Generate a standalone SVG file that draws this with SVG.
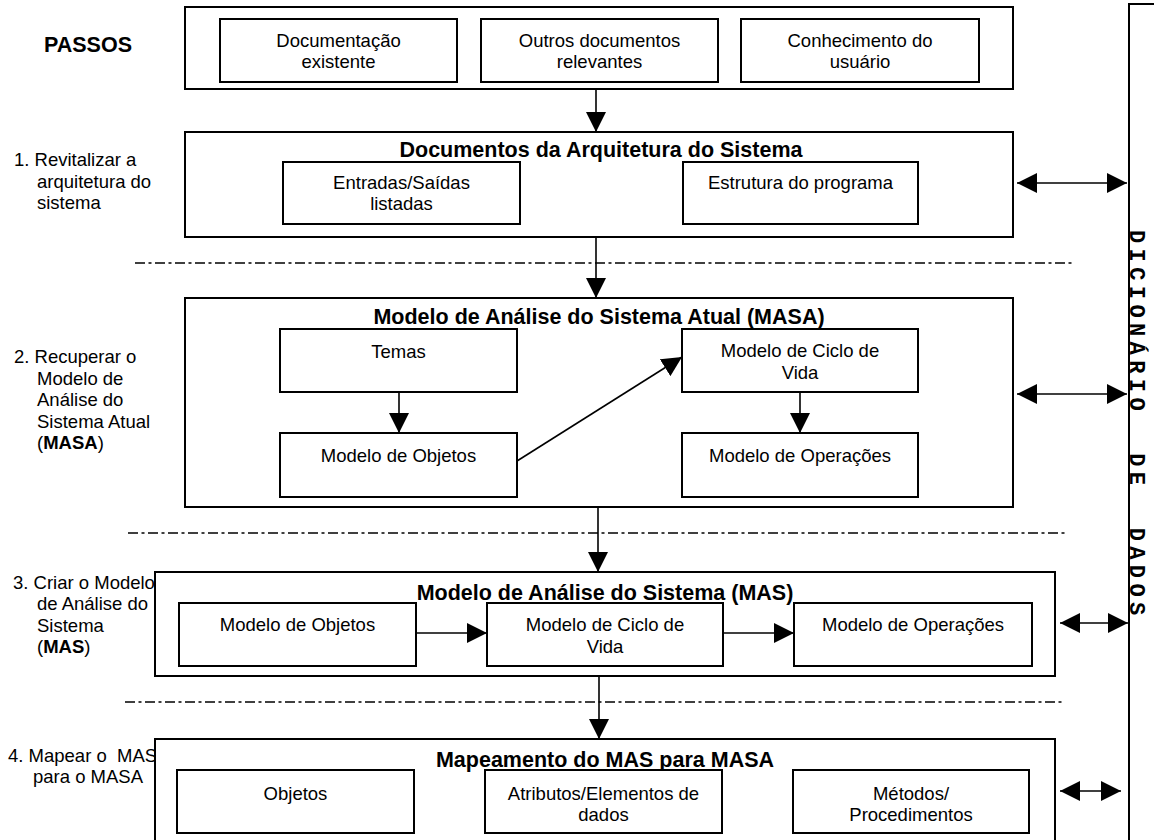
<svg xmlns="http://www.w3.org/2000/svg" width="1154" height="840" viewBox="0 0 1154 840">
  <style>
    .box { fill: #fff; stroke: #000; stroke-width: 2; }
    .t { font-family: "Liberation Sans", Arial, sans-serif; font-size: 18.5px; fill: #000; }
    .c { text-anchor: middle; }
    .b { font-weight: bold; font-size: 21.5px; }
    .sep { stroke: #000; stroke-width: 1.5; stroke-dasharray: 10 3.5 3 3.5; fill: none; }
    .con { stroke: #000; stroke-width: 1.6; fill: none; }
    .dict { font-family: "Liberation Mono", "Courier New", monospace; font-weight: bold; font-size: 22px; letter-spacing: 5.4px; fill: #000; }
  </style>
  <defs>
    <marker id="ah" viewBox="0 0 20 20" refX="20" refY="10" markerWidth="20" markerHeight="20" markerUnits="userSpaceOnUse" orient="auto-start-reverse">
      <path d="M0,0 L20,10 L0,20 z" fill="#000"/>
    </marker>
  </defs>

  <rect width="1154" height="840" fill="#fff"/>

  <!-- step labels -->
  <g id="labels" class="t">
    <text x="44" y="52" class="b">PASSOS</text>
    <text y="166"><tspan x="14">1. Revitalizar a</tspan><tspan x="37" y="188">arquitetura do</tspan><tspan x="37" y="209">sistema</tspan></text>
    <text y="363"><tspan x="14">2. Recuperar o</tspan><tspan x="37" y="385">Modelo de</tspan><tspan x="37" y="406">Análise do</tspan><tspan x="37" y="428">Sistema Atual</tspan><tspan x="37" y="449">(<tspan font-weight="bold">MASA</tspan>)</tspan></text>
    <text y="589"><tspan x="13">3. Criar o Modelo</tspan><tspan x="37" y="610">de Análise do</tspan><tspan x="37" y="632">Sistema</tspan><tspan x="37" y="653">(<tspan font-weight="bold">MAS</tspan>)</tspan></text>
    <text y="762" xml:space="preserve"><tspan x="8">4. Mapear o  MAS</tspan><tspan x="33" y="783">para o MASA</tspan></text>
  </g>

  <!-- step separators -->
  <g id="separators">
    <line class="sep" x1="135" y1="263" x2="1073" y2="263"/>
    <line class="sep" x1="128" y1="533" x2="1067" y2="533"/>
    <line class="sep" x1="125" y1="702" x2="1063" y2="702"/>
  </g>

  <!-- sources -->
  <g id="sources">
    <rect class="box" x="185" y="7" width="828" height="82"/>
    <g id="doc-existente">
      <rect class="box" x="220" y="19" width="237" height="63"/>
      <text class="t c" x="338.5" y="47">Documentação<tspan x="338.5" y="68">existente</tspan></text>
    </g>
    <g id="outros-docs">
      <rect class="box" x="481" y="19" width="237" height="63"/>
      <text class="t c" x="599.5" y="47">Outros documentos<tspan x="599.5" y="68">relevantes</tspan></text>
    </g>
    <g id="conhecimento">
      <rect class="box" x="741" y="19" width="238" height="63"/>
      <text class="t c" x="860" y="47">Conhecimento do<tspan x="860" y="68">usuário</tspan></text>
    </g>
  </g>

  <!-- step 1 -->
  <g id="arquitetura">
    <rect class="box" x="185" y="132" width="828" height="105"/>
    <text class="t b c" x="601" y="157">Documentos da Arquitetura do Sistema</text>
    <g id="entradas-saidas">
      <rect class="box" x="283" y="162" width="237" height="62"/>
      <text class="t c" x="401.5" y="189">Entradas/Saídas<tspan x="401.5" y="210">listadas</tspan></text>
    </g>
    <g id="estrutura">
      <rect class="box" x="683" y="162" width="235" height="62"/>
      <text class="t c" x="800.5" y="189">Estrutura do programa</text>
    </g>
  </g>

  <!-- step 2 -->
  <g id="masa">
    <rect class="box" x="185" y="298" width="828" height="209"/>
    <text class="t b c" x="599" y="324">Modelo de Análise do Sistema Atual (MASA)</text>
    <g id="masa-temas">
      <rect class="box" x="280" y="329" width="237" height="63"/>
      <text class="t c" x="398.5" y="358">Temas</text>
    </g>
    <g id="masa-objetos">
      <rect class="box" x="280" y="433" width="237" height="64"/>
      <text class="t c" x="398.5" y="462">Modelo de Objetos</text>
    </g>
    <g id="masa-ciclo">
      <rect class="box" x="682" y="329" width="236" height="63"/>
      <text class="t c" x="800" y="357">Modelo de Ciclo de<tspan x="800" y="379">Vida</tspan></text>
    </g>
    <g id="masa-operacoes">
      <rect class="box" x="682" y="433" width="236" height="64"/>
      <text class="t c" x="800" y="462">Modelo de Operações</text>
    </g>
  </g>

  <!-- step 3 -->
  <g id="mas">
    <rect class="box" x="155" y="572" width="900" height="104"/>
    <text class="t b c" x="605" y="600">Modelo de Análise do Sistema (MAS)</text>
    <g id="mas-objetos">
      <rect class="box" x="179" y="603" width="237" height="63"/>
      <text class="t c" x="297.5" y="631">Modelo de Objetos</text>
    </g>
    <g id="mas-ciclo">
      <rect class="box" x="487" y="603" width="236" height="63"/>
      <text class="t c" x="605" y="631">Modelo de Ciclo de<tspan x="605" y="653">Vida</tspan></text>
    </g>
    <g id="mas-operacoes">
      <rect class="box" x="794" y="603" width="238" height="63"/>
      <text class="t c" x="913" y="631">Modelo de Operações</text>
    </g>
  </g>

  <!-- step 4 -->
  <g id="mapeamento">
    <rect class="box" x="155" y="739" width="900" height="120"/>
    <text class="t b c" x="605" y="767">Mapeamento do MAS para MASA</text>
    <g id="map-objetos">
      <rect class="box" x="177" y="770" width="237" height="63"/>
      <text class="t c" x="295.5" y="800">Objetos</text>
    </g>
    <g id="map-atributos">
      <rect class="box" x="485" y="770" width="237" height="63"/>
      <text class="t c" x="603.5" y="800">Atributos/Elementos de<tspan x="603.5" y="821">dados</tspan></text>
    </g>
    <g id="map-metodos">
      <rect class="box" x="793" y="770" width="236" height="63"/>
      <text class="t c" x="911" y="800">Métodos/<tspan x="911" y="821">Procedimentos</tspan></text>
    </g>
  </g>

  <!-- data dictionary column -->
  <g id="dicionario">
    <rect class="box" x="1129" y="4" width="60" height="900"/>
    <text class="dict" xml:space="preserve" transform="translate(1130,230) rotate(90)">DICIONÁRIO  DE  DADOS</text>
  </g>

  <!-- connectors -->
  <g id="connectors" class="con">
    <line x1="596" y1="89" x2="596" y2="132" marker-end="url(#ah)"/>
    <line x1="596" y1="237" x2="596" y2="298" marker-end="url(#ah)"/>
    <line x1="598" y1="507" x2="598" y2="572" marker-end="url(#ah)"/>
    <line x1="599" y1="676" x2="599" y2="739" marker-end="url(#ah)"/>
    <line x1="399" y1="392" x2="399" y2="433" marker-end="url(#ah)"/>
    <line x1="800" y1="392" x2="800" y2="433" marker-end="url(#ah)"/>
    <line x1="517" y1="461" x2="682" y2="357" marker-end="url(#ah)"/>
    <line x1="416" y1="633" x2="487" y2="633" marker-end="url(#ah)"/>
    <line x1="723" y1="633" x2="794" y2="633" marker-end="url(#ah)"/>
    <line x1="1017" y1="183" x2="1127" y2="183" marker-start="url(#ah)" marker-end="url(#ah)"/>
    <line x1="1017" y1="394" x2="1127" y2="394" marker-start="url(#ah)" marker-end="url(#ah)"/>
    <line x1="1060" y1="623" x2="1128" y2="623" marker-start="url(#ah)" marker-end="url(#ah)"/>
    <line x1="1060" y1="791" x2="1121" y2="791" marker-start="url(#ah)" marker-end="url(#ah)"/>
  </g>
</svg>
